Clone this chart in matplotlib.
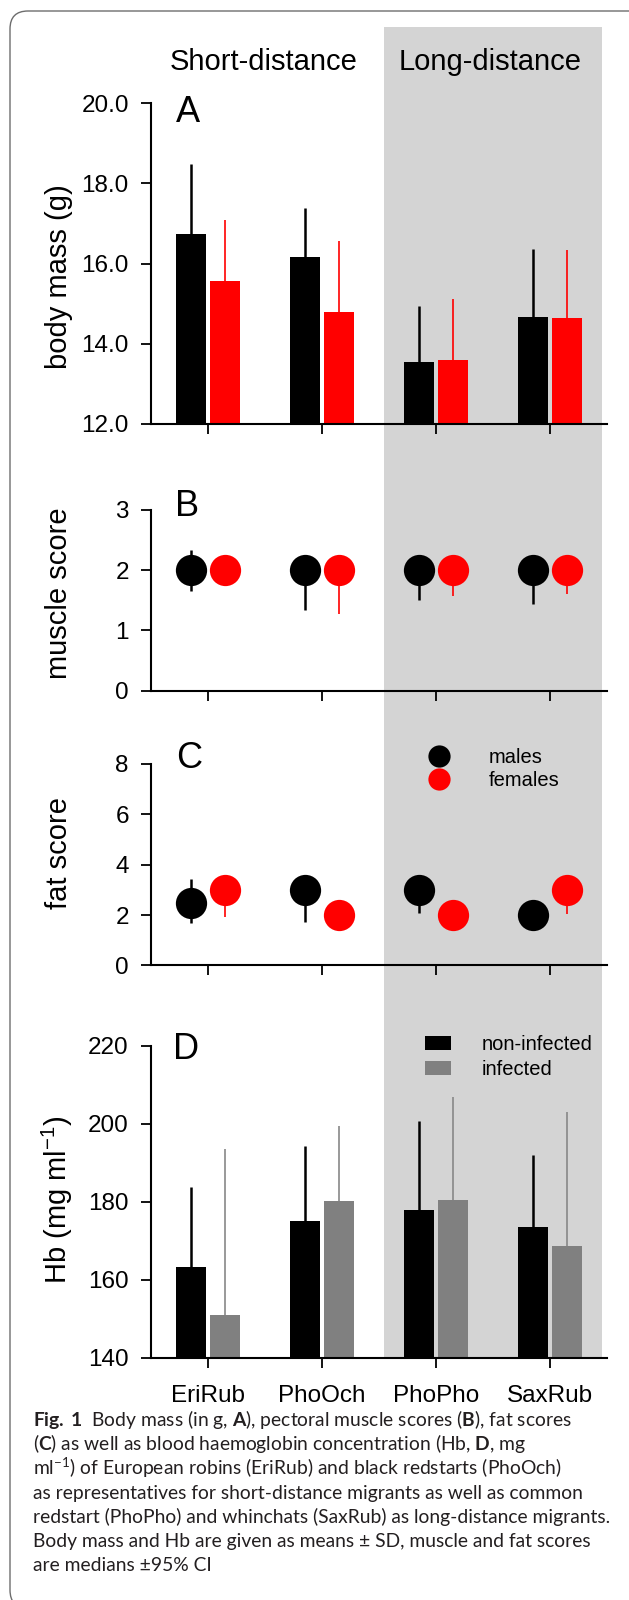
import matplotlib
matplotlib.use('Agg')
import matplotlib.pyplot as plt
import numpy as np
from matplotlib.lines import Line2D
from matplotlib.patches import Patch, Rectangle, FancyBboxPatch
from matplotlib.transforms import blended_transform_factory, IdentityTransform

# species (x categories)
species = ['EriRub', 'PhoOch', 'PhoPho', 'SaxRub']

# A: body mass (g), mean and SD
mass_male = [16.74, 16.17, 13.55, 14.67]
mass_male_sd = [1.74, 1.23, 1.39, 1.69]
mass_female = [15.57, 14.80, 13.59, 14.65]
mass_female_sd = [1.53, 1.76, 1.52, 1.68]

# B: muscle score, median and 95% CI
muscle_male = [2, 2, 2, 2]
muscle_male_lo = [1.66, 1.34, 1.50, 1.44]
muscle_male_hi = [2.33, 2.0, 2.0, 2.0]
muscle_female = [2, 2, 2, 2]
muscle_female_lo = [2.0, 1.27, 1.57, 1.60]
muscle_female_hi = [2.0, 2.0, 2.0, 2.0]

# C: fat score, median and 95% CI
fat_male = [2.5, 3, 3, 2]
fat_male_lo = [1.70, 1.72, 2.08, 2.0]
fat_male_hi = [3.43, 3.0, 3.0, 2.0]
fat_female = [3, 2, 2, 3]
fat_female_lo = [1.92, 2.0, 2.0, 2.05]
fat_female_hi = [3.0, 2.0, 2.0, 3.0]

# D: haemoglobin (mg/ml), mean and SD
hb_noninf = [163.4, 175.2, 177.8, 173.6]
hb_noninf_sd = [20.3, 19.2, 22.9, 18.3]
hb_inf = [151.0, 180.3, 180.6, 168.8]
hb_inf_sd = [42.5, 19.2, 26.2, 34.1]

CAPTION = [
    r'$\mathbf{Fig.\,1}$  Body mass (in g, $\mathbf{A}$), pectoral muscle scores ($\mathbf{B}$), fat scores',
    r'($\mathbf{C}$) as well as blood haemoglobin concentration (Hb, $\mathbf{D}$, mg',
    r'ml$^{-1}$) of European robins (EriRub) and black redstarts (PhoOch)',
    'as representatives for short-distance migrants as well as common',
    'redstart (PhoPho) and whinchats (SaxRub) as long-distance migrants.',
    'Body mass and Hb are given as means \u00b1 SD, muscle and fat scores',
    'are medians \u00b195% CI',
]

plt.rcParams['font.family'] = 'Liberation Sans'
plt.rcParams['mathtext.fontset'] = 'custom'
plt.rcParams['mathtext.rm'] = 'Lato'
plt.rcParams['mathtext.bf'] = 'Lato:bold'
plt.rcParams['mathtext.sf'] = 'Liberation Sans'

W, H = 629, 1600
RED = '#ff0000'
GREY = '#808080'


def fx(px):
    return px / W


def fy(py):
    return 1 - py / H


def box(left, top, right, bottom):
    return [left / W, 1 - bottom / H, (right - left) / W, (bottom - top) / H]


def style_axes(ax, ylim, yticks, fmt):
    ax.set_facecolor('none')
    ax.set_xlim(-0.5, 3.5)
    ax.set_ylim(*ylim)
    ax.set_yticks(yticks)
    ax.set_yticklabels([fmt.format(v) for v in yticks])
    ax.set_xticks(x)
    ax.set_xticklabels(species)
    ax.spines[['top', 'right']].set_visible(False)
    for s in ('left', 'bottom'):
        ax.spines[s].set_linewidth(1.5)
    ax.tick_params(axis='both', direction='out', length=7.5, width=1.3,
                   labelsize=17.5)
    ax.tick_params(axis='y', pad=8.5)
    ax.tick_params(axis='x', labelbottom=False, pad=12)


x = np.arange(len(species))
off = 0.148
bw = 0.26

fig = plt.figure(figsize=(W / 100, H / 100), dpi=100)

axA = fig.add_axes(box(151, 103.3, 607, 424))
axB = fig.add_axes(box(151, 510, 607, 690.7))
axC = fig.add_axes(box(151, 764, 607, 965.5))
axD = fig.add_axes(box(151, 1045.7, 607, 1358))

style_axes(axA, (12, 20), [12, 14, 16, 18, 20], '{:.1f}')
style_axes(axB, (0, 3), [0, 1, 2, 3], '{:d}')
style_axes(axC, (0, 8), [0, 2, 4, 6, 8], '{:d}')
style_axes(axD, (140, 220), [140, 160, 180, 200, 220], '{:d}')
axD.tick_params(axis='x', labelbottom=True)

zeros = np.zeros(len(species))

# A - body mass bars
axA.bar(x - off, mass_male, width=bw, color='black',
        yerr=[zeros, mass_male_sd],
        error_kw=dict(ecolor='black', elinewidth=1.8, capsize=0))
axA.bar(x + off, mass_female, width=bw, color=RED,
        yerr=[zeros, mass_female_sd],
        error_kw=dict(ecolor=RED, elinewidth=1.2, capsize=0))


def medians(ax, xpos, med, lo, hi, color, lw):
    med = np.array(med, dtype=float)
    err = [med - np.array(lo), np.array(hi) - med]
    ax.errorbar(xpos, med, yerr=err, fmt='o', color=color, ms=22.5, mew=0,
                elinewidth=lw, capsize=0)


# B - muscle score
medians(axB, x - off, muscle_male, muscle_male_lo, muscle_male_hi, 'black', 1.8)
medians(axB, x + off, muscle_female, muscle_female_lo, muscle_female_hi, RED, 1.2)

# C - fat score
medians(axC, x - off, fat_male, fat_male_lo, fat_male_hi, 'black', 1.8)
medians(axC, x + off, fat_female, fat_female_lo, fat_female_hi, RED, 1.2)

handles_c = [Line2D([], [], ls='', marker='o', color='black', ms=16, mew=0),
             Line2D([], [], ls='', marker='o', color=RED, ms=16, mew=0)]
axC.legend(handles_c, ['males', 'females'], loc='center left',
           bbox_to_anchor=(fx(416.4), fy(769)), bbox_transform=fig.transFigure,
           frameon=False, fontsize=14.5, handlelength=2.2, handletextpad=1.4,
           borderpad=0, borderaxespad=0, labelspacing=0.2, numpoints=1)

# D - haemoglobin bars
axD.bar(x - off, hb_noninf, width=bw, color='black',
        yerr=[zeros, hb_noninf_sd],
        error_kw=dict(ecolor='black', elinewidth=1.8, capsize=0))
axD.bar(x + off, hb_inf, width=bw, color=GREY,
        yerr=[zeros, hb_inf_sd],
        error_kw=dict(ecolor='#888888', elinewidth=1.2, capsize=0))

handles_d = [Patch(facecolor='black', edgecolor='none'),
             Patch(facecolor=GREY, edgecolor='none')]
axD.legend(handles_d, ['non-infected', 'infected'], loc='center left',
           bbox_to_anchor=(fx(425.2), fy(1057)), bbox_transform=fig.transFigure,
           frameon=False, fontsize=14.5, handlelength=1.3, handleheight=0.68,
           handletextpad=1.5, borderpad=0, borderaxespad=0, labelspacing=0.3)

# long-distance shading behind all panels
band_tr = blended_transform_factory(axA.transData, fig.transFigure)
fig.add_artist(Rectangle((1.54, fy(1358)), 1.92, (1358 - 27.3) / H,
                         transform=band_tr, facecolor='#d4d4d4',
                         edgecolor='none', zorder=-1))

# outer frame
fig.add_artist(FancyBboxPatch((10, -8), 650, 1597,
                              boxstyle='round,pad=0,rounding_size=18',
                              transform=IdentityTransform(), fill=False,
                              edgecolor='#6d6d6d', lw=1.0, zorder=-2))

# group headers
fig.text(fx(264), fy(70), 'Short-distance', ha='center', va='baseline', fontsize=21)
fig.text(fx(490), fy(70), 'Long-distance', ha='center', va='baseline', fontsize=21)

# panel letters
for letter, (px, py) in zip('ABCD', [(175.7, 122), (175.3, 516), (175.7, 768), (173.3, 1059)]):
    fig.text(fx(px), fy(py), letter, ha='left', va='baseline', fontsize=26)

# y labels
for lab, py in [('body mass (g)', 277), ('muscle score', 593),
                ('fat score', 853), (r'Hb (mg ml$^{\mathsf{-1}}$)', 1200)]:
    fig.text(fx(67), fy(py), lab, rotation=90, rotation_mode='anchor',
             ha='center', va='baseline', fontsize=21)

# caption
cap_texts = []
for i, line in enumerate(CAPTION):
    t = fig.text(fx(33), fy(1426 + i * 24.2), line, ha='left', va='baseline',
                 fontsize=14, family='Lato', color='#231f20')
    cap_texts.append(t)

renderer = fig.canvas.get_renderer()
w = cap_texts[4].get_window_extent(renderer).width
scale = 579.0 / w
for t in cap_texts:
    t.set_fontsize(14 * scale)

fig.savefig('out.png', dpi=100)
